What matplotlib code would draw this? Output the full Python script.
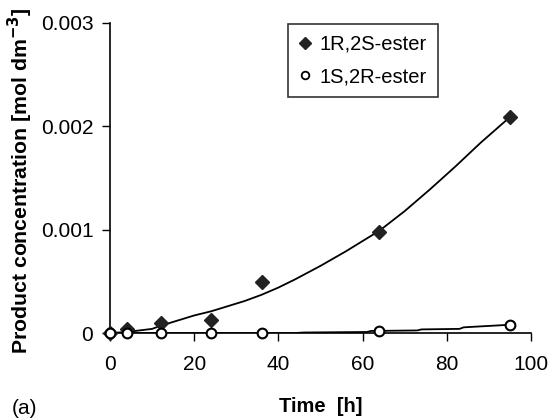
import matplotlib
matplotlib.use("Agg")
import matplotlib.pyplot as plt
from matplotlib.lines import Line2D

plt.rcParams['font.family'] = ['Liberation Sans', 'DejaVu Sans']

# Measured product concentrations (mol dm^-3)
time_h = [0, 4, 12, 24, 36, 64, 95]
ester_RS = [0.0, 0.00004, 0.000095, 0.000125, 0.000495, 0.00098, 0.00209]
ester_SR = [0.0, 0.0, 0.0, 0.0, 0.0, 0.00002, 0.00008]

# Model simulation curves
model_t_RS = [0, 4, 8, 10, 12, 16, 20, 24, 28, 32, 36, 40, 44, 50, 56, 60,
              64, 70, 76, 82, 88, 95]
model_RS = [0.0, 0.00001, 0.00003, 0.00004, 0.00007, 0.00012, 0.00017,
            0.00021, 0.00026, 0.00031, 0.00037, 0.00044, 0.00052, 0.00065,
            0.00079, 0.00089, 0.00099, 0.00118, 0.00139, 0.00161, 0.00184,
            0.00209]
model_t_SR = [0, 44, 46, 61, 62, 73, 74, 83, 84, 95]
model_SR = [0.0, 0.0, 0.000005, 0.00001, 0.00002, 0.000025, 0.000035,
            0.00004, 0.000055, 0.00008]

x_ticks = [0, 20, 40, 60, 80, 100]
y_ticks = [0, 0.001, 0.002, 0.003]
y_tick_labels = ['0', '0.001', '0.002', '0.003']

fig = plt.figure(figsize=(5.5, 4.18), dpi=100)
ax = fig.add_axes([0.2, 0.2033, 0.7655, 0.7417])

ax.plot(model_t_RS, model_RS, color='black', lw=1.3, zorder=2)
ax.plot(model_t_SR, model_SR, color='black', lw=1.3, zorder=2)
ax.plot(time_h, ester_RS, linestyle='none', marker='D', ms=7,
        color='#222222', mec='#222222', zorder=3, clip_on=False)
ax.plot(time_h, ester_SR, linestyle='none', marker='o', ms=7,
        mfc='white', mec='black', mew=1.5, zorder=4, clip_on=False)

ax.set_xlim(0, 100)
ax.set_ylim(0, 0.003)
ax.set_xticks(x_ticks)
ax.set_yticks(y_ticks)
ax.set_yticklabels(y_tick_labels)
ax.tick_params(axis='both', direction='out', length=6, width=1,
               labelsize=15)
ax.tick_params(axis='x', pad=10)
ax.tick_params(axis='y', pad=6)
for side in ('top', 'right'):
    ax.spines[side].set_visible(False)
for side in ('left', 'bottom'):
    ax.spines[side].set_linewidth(1.2)

fig.text(0.5827, 1 - 406 / 418, 'Time  [h]', ha='center', va='center',
         fontsize=14.5, fontweight='bold')
fig.text(20 / 550, 1 - 181 / 418,
         r'Product concentration [mol dm$^{\mathbf{-3}}$]',
         rotation=90, ha='center', va='center', fontsize=15.3,
         fontweight='bold')
fig.text(12 / 550, 1 - 408 / 418, '(a)', ha='left', va='center', fontsize=15)

handles = [
    Line2D([], [], linestyle='none', marker='D', ms=6.5, color='#222222'),
    Line2D([], [], linestyle='none', marker='o', ms=5.5, mfc='white',
           mec='black', mew=1.3),
]
leg = ax.legend(handles, ['1R,2S-ester', '1S,2R-ester'], loc='upper left',
                bbox_to_anchor=(0.423, 0.997), fontsize=14.5, frameon=True,
                fancybox=False, handlelength=0.6, handletextpad=0.4,
                borderpad=0.55, labelspacing=0.65, borderaxespad=0)
leg.get_frame().set_edgecolor('black')
leg.get_frame().set_linewidth(1.2)

fig.savefig('out.png', dpi=100)
